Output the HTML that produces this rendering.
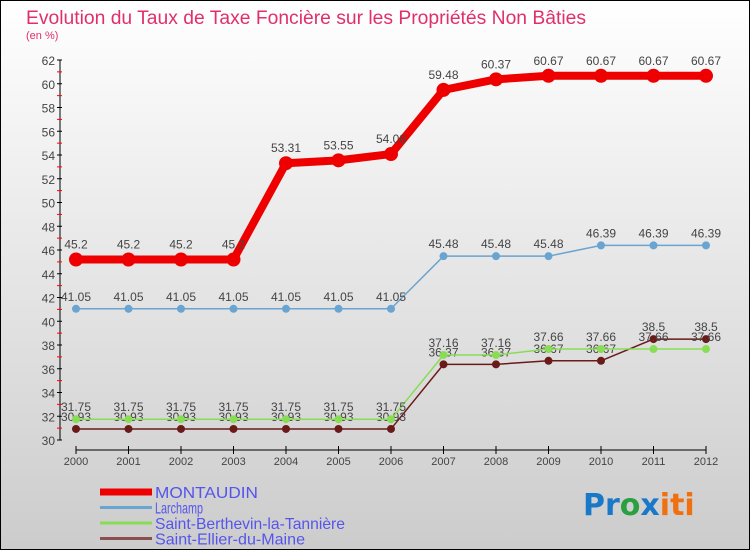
<!DOCTYPE html>
<html><head><meta charset="utf-8"><style>
body{margin:0}
svg{display:block;font-family:"Liberation Sans",sans-serif}
</style></head><body>
<svg width="750" height="550" viewBox="0 0 750 550">
<defs><linearGradient id="bg" x1="0" y1="0" x2="0" y2="1"><stop offset="0" stop-color="#ffffff"/><stop offset="1" stop-color="#cccccc"/></linearGradient></defs>
<rect x="0.5" y="0.5" width="749" height="549" fill="url(#bg)" stroke="#000"/>
<text x="26" y="24" font-size="19" fill="#e0306a" textLength="560" lengthAdjust="spacingAndGlyphs">Evolution du Taux de Taxe Foncière sur les Propriétés Non Bâties</text>
<text x="26" y="39" font-size="11" fill="#e0306a">(en %)</text>
<g id="axes"></g><g id="series"></g><g id="legend"></g>
<text x="583" y="515" font-size="30" font-family="DejaVu Sans" font-weight="bold"><tspan fill="#1a78c8">Pr</tspan><tspan fill="#2aa040">o</tspan><tspan fill="#1a78c8">x</tspan><tspan fill="#f07010">iti</tspan></text>
</svg>
<script>
const years=["2000","2001","2002","2003","2004","2005","2006","2007","2008","2009","2010","2011","2012"];
const yTicks=[30,32,34,36,38,40,42,44,46,48,50,52,54,56,58,60,62];
const montaudin=[45.2,45.2,45.2,45.2,53.31,53.55,54.08,59.48,60.37,60.67,60.67,60.67,60.67];
const larchamp=[41.05,41.05,41.05,41.05,41.05,41.05,41.05,45.48,45.48,45.48,46.39,46.39,46.39];
const berthevin=[31.75,31.75,31.75,31.75,31.75,31.75,31.75,37.16,37.16,37.66,37.66,37.66,37.66];
const ellier=[30.93,30.93,30.93,30.93,30.93,30.93,30.93,36.37,36.37,36.67,36.67,38.5,38.5];
const NS="http://www.w3.org/2000/svg";
const xs=i=>76+i*(706-76)/12;
const ys=v=>440-(v-30)*(380/32);
function mk(t,a,p){const e=document.createElementNS(NS,t);for(const k in a)e.setAttribute(k,a[k]);p.appendChild(e);return e;}
const ax=document.getElementById('axes');
let l=mk('line',{x1:60,y1:60,x2:60,y2:440,stroke:'#000'},ax);

yTicks.forEach(v=>{mk('line',{x1:57,y1:ys(v),x2:62,y2:ys(v),stroke:'#000'},ax);
 if(v<62)mk('line',{x1:57,y1:ys(v+1),x2:62,y2:ys(v+1),stroke:'#f00'},ax);
 const t=mk('text',{x:55,y:ys(v)+5,'font-size':12,fill:'#444','text-anchor':'end'},ax);t.textContent=v;
 });
l=mk('line',{x1:76,y1:450,x2:706,y2:450,stroke:'#000'},ax);

years.forEach((y,i)=>{mk('line',{x1:xs(i),y1:446,x2:xs(i),y2:454,stroke:'#000'},ax);
 const t=mk('text',{x:xs(i),y:465,'font-size':11,fill:'#444','text-anchor':'middle'},ax);t.textContent=y;
 });
const sg=document.getElementById('series');
function series(vals,color,w,r,name){
 const g=mk('g',{},sg);
 const p=mk('polyline',{points:vals.map((v,i)=>xs(i)+','+ys(v)).join(' '),fill:'none',stroke:color,'stroke-width':w,'stroke-linejoin':'round'},g);
 
 vals.forEach((v,i)=>{const c=mk('circle',{cx:xs(i),cy:ys(v),r:r,fill:color},g);
  
  const t=mk('text',{x:xs(i),y:ys(v)-r-4,'font-size':12,fill:'#444','text-anchor':'middle'},g);t.textContent=v;
  });
}
series(ellier,'#6b1a1a',1.5,4,'saint-ellier');
series(berthevin,'#88dd55',1.5,4,'saint-berthevin');
series(larchamp,'#6aa4d0',1.5,4,'larchamp');
series(montaudin,'#ee0000',8,7,'montaudin');
const lg=document.getElementById('legend');
const names=["MONTAUDIN","Larchamp","Saint-Berthevin-la-Tannière","Saint-Ellier-du-Maine"];
const cols=['#ee0000','#6aa4d0','#88dd55','#8a5050'];const ws=[7,3,3,3];
names.forEach((n,i)=>{const y=492+i*15.5;
 const g=mk('g',{},lg);
 mk('line',{x1:100,y1:y,x2:152,y2:y,stroke:cols[i],'stroke-width':ws[i]},g);
 const t=mk('text',{x:155,y:y+6,'font-size':16,fill:'#5555ee',textLength:[103,48,190,150][i],lengthAdjust:'spacingAndGlyphs'},g);t.textContent=n;});
</script>
</body></html>
